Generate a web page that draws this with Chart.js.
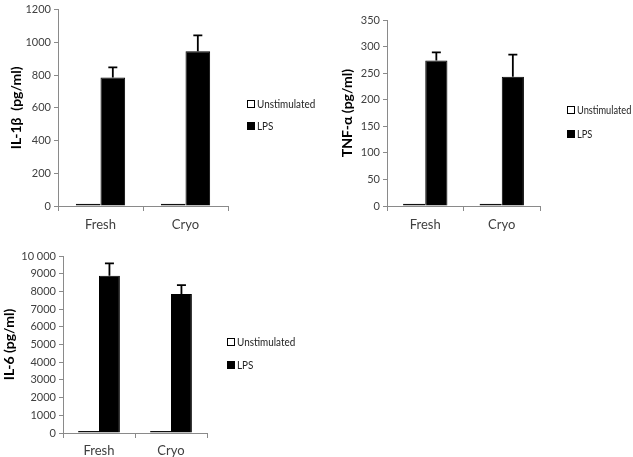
<!DOCTYPE html>
<html><head><meta charset="utf-8">
<script src="https://cdn.jsdelivr.net/npm/chart.js@4.4.0/dist/chart.umd.min.js"></script>
<style>
body{margin:0;background:#fff;width:633px;height:457px;overflow:hidden;position:relative}
canvas{position:absolute}
</style></head><body>
<canvas id="c1" width="330" height="235" style="left:0;top:0"></canvas>
<canvas id="c2" width="313" height="235" style="left:320px;top:0"></canvas>
<canvas id="c3" width="330" height="222" style="left:0;top:235px"></canvas>
<script>
const categories = ['Fresh', 'Cryo'];
const seriesNames = ['Unstimulated', 'LPS'];

const il1bUnstim = [14, 14];
const il1bLps = [785, 945];
const il1bErr = [62, 97];
const il1bTicks = ['0', '200', '400', '600', '800', '1000', '1200'];

const tnfUnstim = [4, 4];
const tnfLps = [274, 243];
const tnfErr = [15, 42];
const tnfTicks = ['0', '50', '100', '150', '200', '250', '300', '350'];

const il6Unstim = [120, 120];
const il6Lps = [8880, 7850];
const il6Err = [700, 500];
const il6Ticks = ['0', '1000', '2000', '3000', '4000', '5000', '6000', '7000', '8000', '9000', '10 000'];

const FONT = 'Lato, "Open Sans", sans-serif';
const AXIS = '#8a8a8a';
const TXT = '#404040';

const errorBars = {
  id: 'errorBars',
  afterDatasetsDraw(chart, args, opts) {
    const meta = chart.getDatasetMeta(1);
    const ys = chart.scales.y;
    const ctx = chart.ctx;
    ctx.save();
    ctx.strokeStyle = '#000';
    ctx.lineWidth = 1.8;
    meta.data.forEach((bar, i) => {
      const v = chart.data.datasets[1].data[i];
      const top = ys.getPixelForValue(v + opts.err[i]);
      ctx.beginPath();
      ctx.moveTo(bar.x, bar.y);
      ctx.lineTo(bar.x, top);
      ctx.moveTo(bar.x - 4.5, top);
      ctx.lineTo(bar.x + 4.5, top);
      ctx.stroke();
    });
    ctx.restore();
  }
};

const customLegend = {
  id: 'customLegend',
  afterDraw(chart, args, opts) {
    const ctx = chart.ctx;
    ctx.save();
    ctx.font = '11px ' + FONT;
    ctx.textBaseline = 'middle';
    const fills = ['#fff', '#000'];
    seriesNames.forEach((n, i) => {
      const y = opts.ys[i];
      ctx.fillStyle = fills[i];
      ctx.fillRect(opts.x + 0.5, y - 3.5, 7, 7);
      ctx.strokeStyle = '#000';
      ctx.lineWidth = 1;
      ctx.strokeRect(opts.x + 0.5, y - 3.5, 7, 7);
      ctx.fillStyle = '#222';
      const w = ctx.measureText(n).width;
      ctx.fillText(n, opts.x + 10, y + 0.5, w * opts.squeeze);
    });
    ctx.restore();
  }
};

function makeChart(id, cfg) {
  return new Chart(document.getElementById(id), {
    type: 'bar',
    data: {
      labels: categories,
      datasets: [
        { label: seriesNames[0], data: cfg.unstim, backgroundColor: '#fff', borderColor: '#111', borderWidth: 1, borderSkipped: false },
        { label: seriesNames[1], data: cfg.lps, backgroundColor: '#000', borderColor: '#000', borderWidth: 1 }
      ]
    },
    options: {
      responsive: false,
      animation: false,
      layout: { padding: { left: 0, top: cfg.top, right: cfg.right, bottom: 0 } },
      datasets: { bar: { categoryPercentage: 0.58, barPercentage: 1.0 } },
      plugins: {
        legend: { display: false },
        tooltip: { enabled: false },
        errorBars: { err: cfg.err },
        customLegend: { x: cfg.legX, ys: cfg.legY, squeeze: cfg.squeeze }
      },
      scales: {
        x: {
          grid: { drawOnChartArea: false, color: AXIS, tickLength: 5, offset: true },
          border: { color: AXIS },
          ticks: { color: TXT, font: { family: FONT, size: 13 }, padding: cfg.xPad },
          afterFit(s) { s.height = cfg.xH; }
        },
        y: {
          min: 0, max: cfg.max,
          grid: { drawOnChartArea: false, color: AXIS, tickLength: 4 },
          border: { color: AXIS },
          ticks: {
            stepSize: cfg.step, color: TXT, font: { family: FONT, size: 11 }, padding: 3,
            callback: (v, i) => cfg.tickLabels[i]
          },
          title: {
            display: true, text: cfg.title, color: '#000',
            font: { family: FONT, size: 14, weight: 'bold' },
            padding: { top: cfg.titlePad, bottom: 0 }
          },
          afterFit(s) { s.width = cfg.yW; }
        }
      }
    },
    plugins: [errorBars, customLegend]
  });
}

makeChart('c1', {
  unstim: il1bUnstim, lps: il1bLps, err: il1bErr, tickLabels: il1bTicks,
  max: 1200, step: 200, title: 'IL-1β  (pg/ml)',
  top: 6, right: 102, yW: 58, xH: 29, xPad: 6, titlePad: 8,
  legX: 247, legY: [104, 126], squeeze: 0.9
});
makeChart('c2', {
  unstim: tnfUnstim, lps: tnfLps, err: tnfErr, tickLabels: tnfTicks,
  max: 350, step: 50, title: 'TNF-α (pg/ml)',
  top: 20, right: 93, yW: 67, xH: 29, xPad: 6, titlePad: 19,
  legX: 247, legY: [110, 134], squeeze: 0.84
});
makeChart('c3', {
  unstim: il6Unstim, lps: il6Lps, err: il6Err, tickLabels: il6Ticks,
  max: 10000, step: 1000, title: 'IL-6 (pg/ml)',
  top: 21, right: 123, yW: 63, xH: 24, xPad: 5, titlePad: 1,
  legX: 227, legY: [107, 130], squeeze: 0.9
});
</script>
</body></html>
